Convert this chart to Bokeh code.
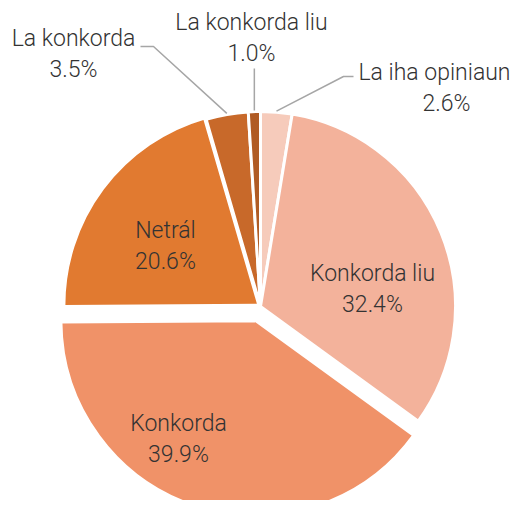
import math
from bokeh.plotting import figure
from bokeh.models import Range1d, ColumnDataSource
from bokeh.embed import file_html
from bokeh.resources import INLINE
from bokeh.core.properties import value

# ---- data ----
categories = ["La iha opiniaun", "Konkorda liu", "Konkorda", "Netrál", "La konkorda", "La konkorda liu"]
shares = [2.6, 32.4, 39.9, 20.6, 3.5, 1.0]

# ---- styles / layout ----
colors = ["#F6CBBB", "#F3B29B", "#F09268", "#E17A30", "#C8692A", "#B05B24"]
explode = [0, 0, 15, 2, 0, 0]
# label anchors (screen px): name center x, name baseline, percent center x
label_pos = [(434, 72, 446), (372, 273, 372), (178, 423, 178), (165, 230, 165),
             (73, 38, 73), (251, 22, 251)]
line_gap = 31

W, H = 512, 500
SH = 516  # flip: data y = SH - screen y

def sy(y):
    return SH - y

p = figure(width=W, height=H, x_range=Range1d(0, W), y_range=Range1d(SH - H, SH),
           output_backend="svg", toolbar_location=None, min_border=0,
           x_axis_location=None, y_axis_location=None)
p.grid.visible = False
p.outline_line_color = None
p.background_fill_color = "white"
p.border_fill_color = "white"

cx, cy = 260, sy(306)
R = 195
total = sum(shares)

xs, ys, starts, ends, mids = [], [], [], [], []
cum = 0.0
for v, d in zip(shares, explode):
    a0 = cum / total * 360.0
    a1 = (cum + v) / total * 360.0
    cum += v
    mid = (a0 + a1) / 2
    mids.append(mid)
    xs.append(cx + d * math.sin(math.radians(mid)))
    ys.append(cy + d * math.cos(math.radians(mid)))
    starts.append(math.radians(90 - a1))
    ends.append(math.radians(90 - a0))

src = ColumnDataSource(dict(x=xs, y=ys, start=starts, end=ends, color=colors,
                            cat=categories, share=shares))
p.wedge(x="x", y="y", radius=R, start_angle="start", end_angle="end",
        fill_color="color", line_color="white", line_width=3, source=src)

# leader lines for small outer slices
def edge_point(i, extra=1):
    m = math.radians(mids[i])
    return (xs[i] + (R + extra) * math.sin(m), ys[i] + (R + extra) * math.cos(m))

lead_color = "#A6A6A6"
x0, y0 = edge_point(0)
p.line([x0, 343, 353], [y0, sy(76), sy(76)], line_color=lead_color, line_width=1.5)
x0, y0 = edge_point(4)
p.line([x0, 153, 140], [y0, sy(46), sy(46)], line_color=lead_color, line_width=1.5)
x0, y0 = edge_point(5)
p.line([x0, x0], [y0, sy(68)], line_color=lead_color, line_width=1.5)

pcts = [f"{v:.1f}%" for v in shares]
lx1 = [q[0] for q in label_pos]
lx2 = [q[2] for q in label_pos]
ly1 = [sy(q[1]) for q in label_pos]
ly2 = [sy(q[1] + line_gap) for q in label_pos]

font = value("Roboto Light, Roboto, sans-serif")
p.text(x=lx1, y=ly1, text=categories, text_font=font, text_font_size="23px",
       text_color="#333333", text_align="center", text_baseline="alphabetic")
p.text(x=lx2, y=ly2, text=pcts, text_font=font, text_font_size="23px",
       text_color="#333333", text_align="center", text_baseline="alphabetic")

open("out.html", "w").write(file_html(p, INLINE))
